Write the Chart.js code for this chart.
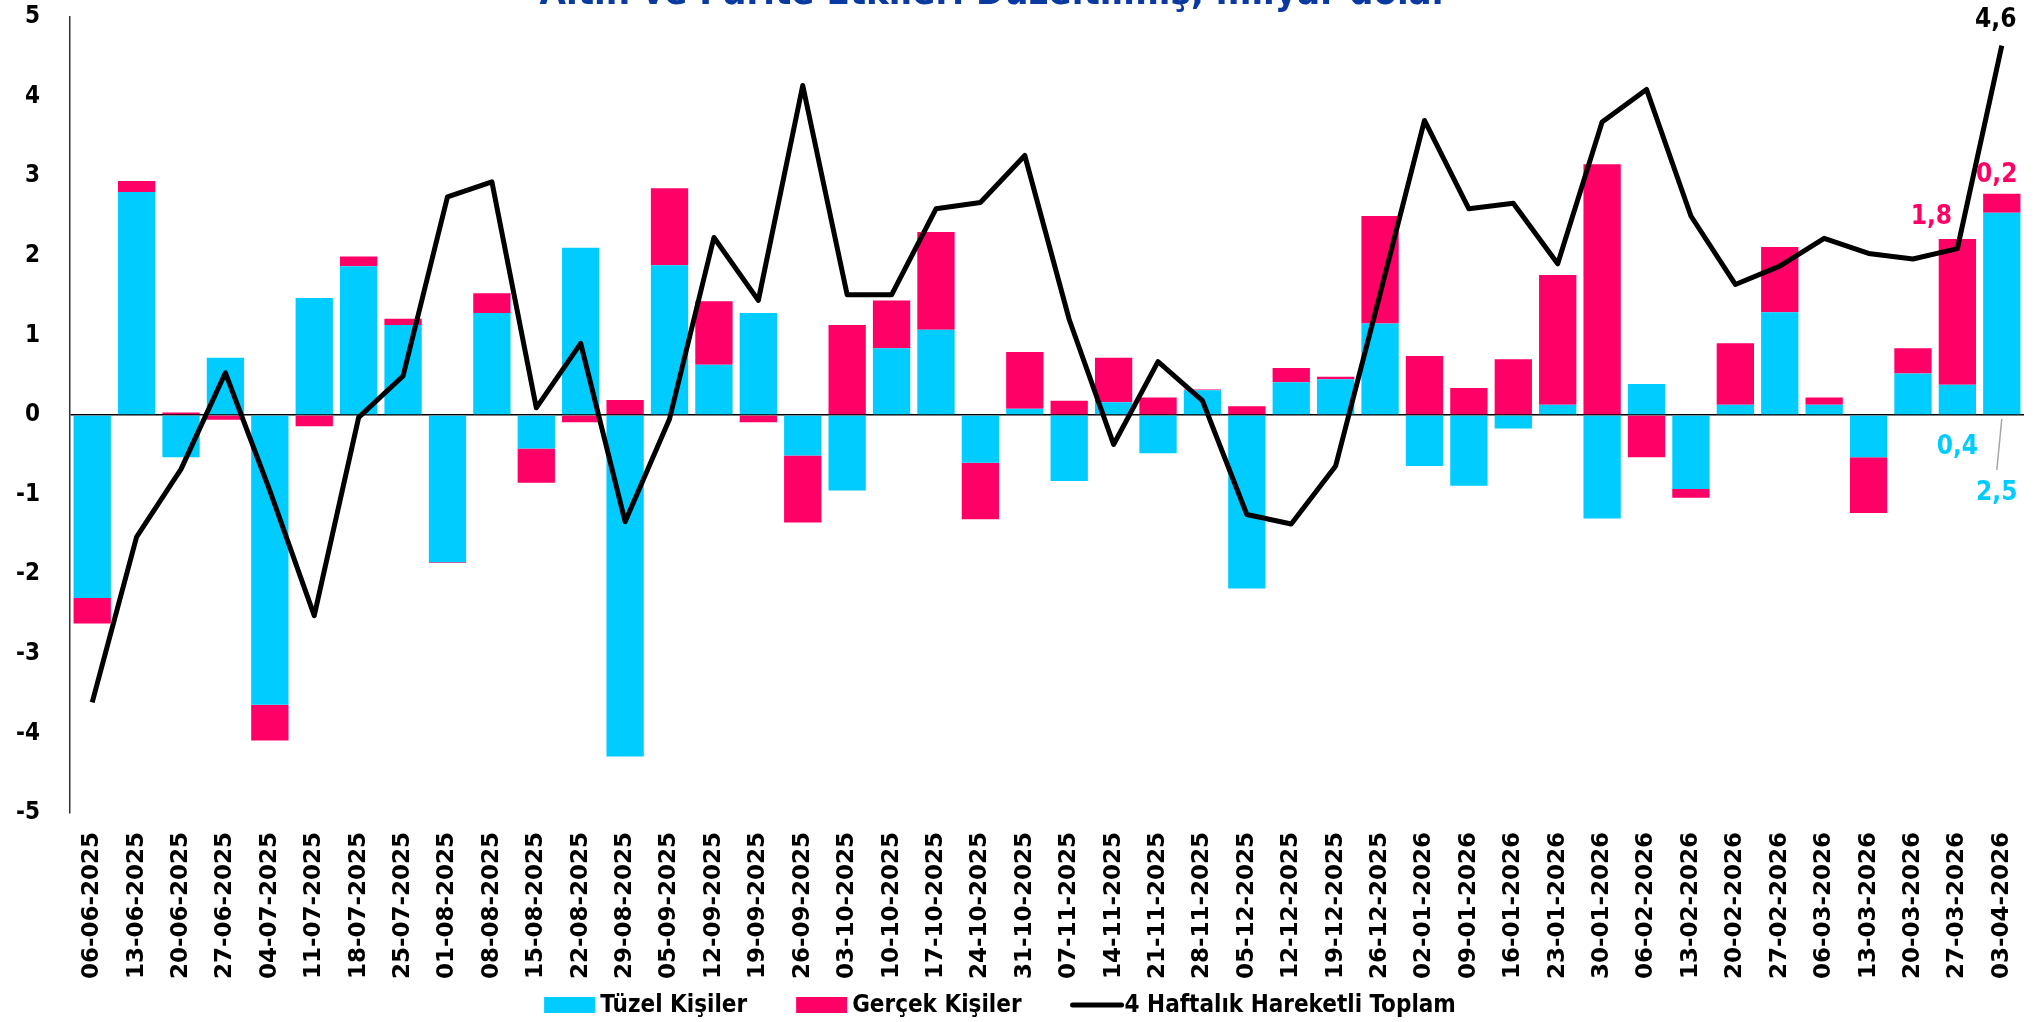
<!DOCTYPE html>
<html>
<head>
<meta charset="utf-8">
<title>Altın ve Parite Etkileri Düzeltilmiş, milyar dolar</title>
<script src="https://cdn.jsdelivr.net/npm/chart.js@4.4.1/dist/chart.umd.min.js"></script>
<style>
  html, body { margin: 0; padding: 0; background: #fff; overflow: hidden; }
  #wrap { position: relative; width: 2039px; height: 1022px; }
</style>
</head>
<body>
<div id="wrap"><canvas id="flowChart"></canvas></div>
<script>
// Weekly flows, billion USD
const weeks = [
  '06-06-2025', '13-06-2025', '20-06-2025', '27-06-2025', '04-07-2025', '11-07-2025',
  '18-07-2025', '25-07-2025', '01-08-2025', '08-08-2025', '15-08-2025', '22-08-2025',
  '29-08-2025', '05-09-2025', '12-09-2025', '19-09-2025', '26-09-2025', '03-10-2025',
  '10-10-2025', '17-10-2025', '24-10-2025', '31-10-2025', '07-11-2025', '14-11-2025',
  '21-11-2025', '28-11-2025', '05-12-2025', '12-12-2025', '19-12-2025', '26-12-2025',
  '02-01-2026', '09-01-2026', '16-01-2026', '23-01-2026', '30-01-2026', '06-02-2026',
  '13-02-2026', '20-02-2026', '27-02-2026', '06-03-2026', '13-03-2026', '20-03-2026',
  '27-03-2026', '03-04-2026'
];

const tuzelKisiler = [
  -2.30, 2.80, -0.53, 0.72, -3.64, 1.47, 1.87, 1.13, -1.85, 1.28, -0.42, 2.10,
  -4.29, 1.88, 0.63, 1.28, -0.51, -0.95, 0.84, 1.07, -0.60, 0.08, -0.83, 0.16,
  -0.48, 0.31, -2.18, 0.41, 0.45, 1.15, -0.64, -0.89, -0.17, 0.13, -1.30, 0.39,
  -0.93, 0.13, 1.29, 0.13, -0.53, 0.52, 0.38, 2.54
];

const gercekKisiler = [
  -0.32, 0.14, 0.03, -0.06, -0.45, -0.14, 0.12, 0.08, -0.01, 0.25, -0.43, -0.09,
  0.19, 0.97, 0.80, -0.09, -0.84, 1.13, 0.60, 1.23, -0.71, 0.71, 0.18, 0.56,
  0.22, 0.01, 0.11, 0.18, 0.03, 1.35, 0.74, 0.34, 0.70, 1.63, 3.15, -0.53,
  -0.11, 0.77, 0.82, 0.09, -0.70, 0.32, 1.83, 0.24
];

const hareketliToplam = [
  -3.61, -1.53, -0.68, 0.53, -0.95, -2.52, -0.03, 0.49, 2.74, 2.93, 0.09, 0.90,
  -1.34, -0.05, 2.23, 1.44, 4.14, 1.51, 1.51, 2.59, 2.67, 3.26, 1.20, -0.37,
  0.67, 0.18, -1.25, -1.37, -0.64, 1.52, 3.70, 2.59, 2.66, 1.90, 3.68, 4.09,
  2.50, 1.64, 1.87, 2.22, 2.03, 1.96, 2.09, 4.64
];

const yTicks = [-5, -4, -3, -2, -1, 0, 1, 2, 3, 4, 5];

const chartTitle = 'Altın ve Parite Etkileri Düzeltilmiş, milyar dolar';

const CYAN = '#00CCFF';
const PINK = '#FF0066';
const NARROW = "'Liberation Sans Narrow', 'DejaVu Sans Condensed', 'Liberation Sans', sans-serif";
const WIDE = "'DejaVu Sans', Verdana, sans-serif";

const fmt = v => v.toFixed(1).replace('.', ',');

// title, data labels and legend are drawn by hand
const extrasPlugin = {
  id: 'extras',
  afterDatasetsDraw(chart) {
    const { ctx } = chart;
    const zeroY = chart.scales.y.getPixelForValue(0);
    const last = weeks.length - 1;
    const prev = last - 1;
    const cyanBars = chart.getDatasetMeta(0).data;
    const pinkBars = chart.getDatasetMeta(1).data;
    const linePts = chart.getDatasetMeta(2).data;

    ctx.save();
    ctx.font = `bold 26px ${NARROW}`;
    ctx.textAlign = 'center';
    ctx.textBaseline = 'middle';

    ctx.fillStyle = PINK;
    ctx.fillText(fmt(gercekKisiler[prev]), pinkBars[prev].x - 26, pinkBars[prev].y - 22);
    ctx.fillText(fmt(gercekKisiler[last]), pinkBars[last].x - 5, pinkBars[last].y - 18);

    ctx.fillStyle = CYAN;
    ctx.fillText(fmt(tuzelKisiler[prev]), cyanBars[prev].x, zeroY + 32);
    ctx.fillText(fmt(tuzelKisiler[last]), cyanBars[last].x - 5, zeroY + 78);

    ctx.strokeStyle = '#A6A6A6';
    ctx.lineWidth = 1.5;
    ctx.beginPath();
    ctx.moveTo(cyanBars[last].x, zeroY + 4);
    ctx.lineTo(cyanBars[last].x - 5, zeroY + 55);
    ctx.stroke();

    ctx.fillStyle = '#000';
    ctx.fillText(fmt(hareketliToplam[last]), linePts[last].x - 6, linePts[last].y - 25);
    ctx.restore();
  },
  afterDraw(chart) {
    const { ctx, height } = chart;
    ctx.save();

    // title sits half outside the picture, as in the source
    ctx.font = `bold 38px ${NARROW}`;
    ctx.fillStyle = '#0A3AA0';
    ctx.textAlign = 'center';
    ctx.textBaseline = 'alphabetic';
    ctx.fillText(chartTitle, 994, 4);

    // legend
    ctx.font = `bold 24px ${NARROW}`;
    ctx.textBaseline = 'middle';
    ctx.textAlign = 'left';
    const items = chart.data.datasets.map(ds => ({
      text: ds.label,
      color: ds.type === 'line' ? ds.borderColor : ds.backgroundColor,
      line: ds.type === 'line'
    }));
    const itemGap = 49;
    let total = 0;
    items.forEach(it => {
      it.sym = it.line ? 53 : 51;
      it.gap = it.line ? 1 : 5;
      it.w = it.sym + it.gap + ctx.measureText(it.text).width;
      total += it.w;
    });
    total += itemGap * (items.length - 1);
    let x = 1000 - total / 2;
    const cy = height - 17;
    items.forEach(it => {
      if (it.line) {
        ctx.strokeStyle = it.color;
        ctx.lineWidth = 5;
        ctx.lineCap = 'round';
        ctx.beginPath();
        ctx.moveTo(x + 2, cy);
        ctx.lineTo(x + it.sym - 2, cy);
        ctx.stroke();
      } else {
        ctx.fillStyle = it.color;
        ctx.fillRect(x, cy - 8, it.sym, 16);
      }
      ctx.fillStyle = '#000';
      ctx.fillText(it.text, x + it.sym + it.gap, cy + 1);
      x += it.w + itemGap;
    });
    ctx.restore();
  }
};

new Chart(document.getElementById('flowChart'), {
  type: 'bar',
  data: {
    labels: weeks,
    datasets: [
      {
        label: 'Tüzel Kişiler',
        data: tuzelKisiler,
        backgroundColor: CYAN,
        stack: 'flows',
        order: 2
      },
      {
        label: 'Gerçek Kişiler',
        data: gercekKisiler,
        backgroundColor: PINK,
        stack: 'flows',
        order: 2
      },
      {
        type: 'line',
        label: '4 Haftalık Hareketli Toplam',
        data: hareketliToplam,
        borderColor: '#000',
        backgroundColor: '#000',
        borderWidth: 5,
        borderJoinStyle: 'round',
        pointRadius: 0,
        tension: 0,
        stack: 'line',
        order: 1
      }
    ]
  },
  options: {
    responsive: true,
    maintainAspectRatio: false,
    animation: false,
    categoryPercentage: 1,
    barPercentage: 0.84,
    layout: {
      padding: { top: 17, right: 15, bottom: 44, left: 0 }
    },
    plugins: {
      legend: { display: false },
      title: { display: false },
      tooltip: { enabled: false }
    },
    scales: {
      x: {
        stacked: true,
        grid: { display: false, drawTicks: false },
        border: { display: false },
        afterFit: scale => {
          scale.height = 165;
          scale.paddingLeft = 0;
          scale.paddingRight = 0;
        },
        ticks: {
          autoSkip: false,
          minRotation: 90,
          maxRotation: 90,
          padding: 19,
          color: '#000',
          font: { family: WIDE, size: 23, weight: 'bold' }
        }
      },
      y: {
        stacked: true,
        min: -5,
        max: 5,
        afterFit: scale => {
          scale.width = 70;
          scale.paddingTop = 0;
          scale.paddingBottom = 0;
        },
        afterBuildTicks: scale => { scale.ticks = yTicks.map(v => ({ value: v })); },
        grid: {
          drawTicks: false,
          color: c => (c.tick && c.tick.value === 0 ? '#000' : 'rgba(0,0,0,0)'),
          lineWidth: 1.5
        },
        border: { display: true, color: '#333', width: 1.5 },
        ticks: {
          padding: 30,
          color: '#000',
          font: { family: NARROW, size: 24, weight: 'bold' }
        }
      }
    }
  },
  plugins: [extrasPlugin]
});
</script>
</body>
</html>
